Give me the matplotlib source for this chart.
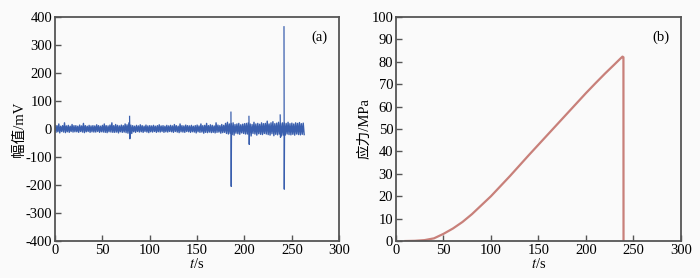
import numpy as np
import matplotlib.pyplot as plt

plt.rcParams['font.family'] = ['Liberation Serif', 'Noto Sans CJK SC']
plt.rcParams['mathtext.fontset'] = 'stix'
plt.rcParams['axes.unicode_minus'] = False

# (a) acoustic signal: band envelope every 2 s
t_env = list(range(0, 264, 2))
upper = [14, 12, 18, 10, 12, 22, 11, 13, 10, 16, 12,
         12, 10, 14, 11, 20, 12, 10, 13, 11, 12,
         11, 15, 12, 10, 13, 18, 12, 11, 14, 22,
         12, 16, 13, 11, 14, 12, 18, 15, 22, 14,
         12, 10, 13, 11, 15, 12, 10, 14, 11, 12,
         11, 13, 10, 12, 15, 11, 12, 10, 13, 11,
         13, 11, 16, 12, 10, 18, 12, 11, 14, 12,
         11, 13, 10, 12, 14, 11, 18, 12, 13, 20,
         12, 15, 13, 11, 22, 14, 12, 16, 13, 20,
         24, 18, 20, 22, 16, 18, 20, 15, 17, 19,
         20, 22, 18, 16, 24, 18, 20, 17, 22, 19,
         20, 28, 18, 22, 26, 19, 21, 24, 20, 22,
         22, 20, 24, 19, 21, 18, 22, 20, 23, 19, 21]
lower = [-12, -10, -14, -9, -11, -13, -10, -12, -9, -11, -10,
         -10, -12, -9, -11, -13, -10, -9, -12, -10, -11,
         -11, -9, -12, -10, -11, -12, -13, -10, -11, -12,
         -12, -11, -14, -10, -12, -11, -13, -15, -18, -16,
         -10, -12, -9, -11, -10, -12, -9, -11, -13, -10,
         -11, -9, -12, -10, -11, -9, -12, -10, -11, -9,
         -10, -12, -9, -11, -13, -10, -11, -12, -9, -10,
         -12, -10, -11, -14, -10, -12, -11, -15, -12, -13,
         -11, -13, -12, -14, -12, -11, -15, -13, -12, -16,
         -18, -16, -20, -22, -15, -17, -19, -14, -16, -18,
         -18, -20, -25, -16, -18, -22, -17, -19, -20, -16,
         -18, -20, -22, -17, -24, -19, -21, -18, -25, -22,
         -22, -18, -20, -21, -19, -22, -18, -20, -21, -19, -20]

spike_t = [79, 186, 205, 238, 242]
spike_hi = [45, 60, 45, 50, 365]
spike_lo = [-35, -205, -55, -30, -215]

# (b) stress curve
t_stress = [10, 20, 30, 40, 50, 60, 70, 80, 90, 100, 110, 120, 130, 140, 150,
            160, 170, 180, 190, 200, 210, 220, 230, 236, 238.5, 239.5, 239.6]
stress = [0, 0.1, 0.4, 1.2, 3.2, 5.6, 8.5, 12, 16, 20, 24.5, 29, 33.7, 38.4, 43,
          47.6, 52.2, 56.8, 61.4, 66, 70.4, 74.7, 78.8, 81.3, 82.3, 82, 0]

blue = '#3a5fae'
red = '#c8807a'

fig = plt.figure(figsize=(7, 2.78), dpi=100)
fig.patch.set_facecolor('#fafafa')
ax1 = fig.add_axes([0.0786, 0.133, 0.406, 0.806])
ax2 = fig.add_axes([0.5657, 0.133, 0.407, 0.806])

# zigzag between upper and lower envelope values
xs = np.column_stack([t_env, np.array(t_env) + 1]).ravel()
ys = np.column_stack([upper, lower]).ravel()
ax1.plot(xs, ys, color=blue, lw=1.0)
for t, hi, lo in zip(spike_t, spike_hi, spike_lo):
    ax1.plot([t - 0.3, t, t + 0.3], [hi, lo, 0], color=blue, lw=0.9)

ax2.plot(t_stress, stress, color=red, lw=1.6)

for ax in (ax1, ax2):
    ax.set_facecolor('#fafafa')
    ax.set_xlim(0, 300)
    ax.set_xticks(range(0, 301, 50))
    ax.tick_params(direction='in', length=4, width=1, color='#555555',
                   labelsize=10.5, pad=2)
    for s in ax.spines.values():
        s.set_color('#555555')
        s.set_linewidth(1.3)
    ax.set_xlabel('$t$/s', fontsize=10.5, labelpad=0)

ax1.set_ylim(-400, 400)
ax1.set_yticks(range(-400, 401, 100))
ax1.set_ylabel('幅值/mV', fontsize=10.5, labelpad=0)
ax1.text(0.96, 0.94, '(a)', transform=ax1.transAxes, ha='right', va='top', fontsize=10.5)

ax2.set_ylim(0, 100)
ax2.set_yticks(range(0, 101, 10))
ax2.set_ylabel('应力/MPa', fontsize=10.5, labelpad=0)
ax2.text(0.96, 0.94, '(b)', transform=ax2.transAxes, ha='right', va='top', fontsize=10.5)

fig.savefig('out.png', dpi=100, facecolor=fig.get_facecolor())
